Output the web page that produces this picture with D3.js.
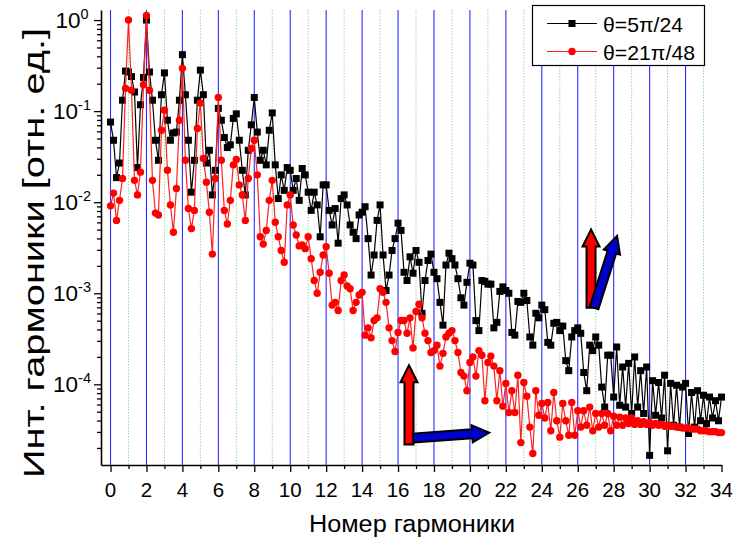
<!DOCTYPE html>
<html>
<head>
<meta charset="utf-8">
<script src="https://cdn.jsdelivr.net/npm/d3@7"></script>
<style>
  body { margin: 0; background: #fff; }
  text { font-family: "Liberation Sans", Arial, sans-serif; fill: #000; }
</style>
</head>
<body>
<svg id="chart" width="737" height="541"></svg>
<script>
// Harmonic sampling grid (harmonic number of the first sample and spacing)
const harmonicStart = 0;
const harmonicStep = 1 / 6;

// log10 of harmonic intensity (normalised units), θ = 5π/24
const logIntA = [
  -1.12,-1.32,-1.73,-1.57,-0.88,-0.56,
  -0.57,-0.62,-0.79,-1.62,-0.93,-0.63,
   0.00,-0.57,-0.88,-1.32,-1.54,-0.82,
  -0.58,-1.10,-1.32,-1.24,-1.23,-0.88,
  -0.38,-0.82,-1.32,-1.89,-1.54,-0.88,
  -0.55,-0.82,-1.57,-1.43,-1.92,-1.65,
  -0.97,-1.10,-1.29,-1.40,-1.37,-1.08,
  -1.03,-1.32,-1.65,-1.92,-1.43,-1.15,
  -0.85,-1.23,-1.54,-1.43,-1.59,-1.21,
  -1.02,-1.59,-1.96,-1.70,-1.87,-1.62,
  -1.65,-1.87,-1.74,-1.98,-1.63,-1.70,
  -1.89,-2.09,-1.89,-2.03,-2.38,-1.81,
  -1.81,-2.09,-2.25,-2.07,-2.45,-1.96,
  -1.92,-2.03,-2.25,-2.33,-2.40,-2.14,
  -2.11,-2.05,-2.40,-2.80,-2.58,-2.20,
  -2.03,-2.58,-2.97,-2.80,-2.53,-2.40,
  -2.23,-2.31,-2.77,-2.86,-2.60,-2.78,
  -2.53,-2.66,-3.22,-2.86,-2.64,-2.57,
  -2.77,-2.84,-3.10,-3.35,-2.69,-2.56,
  -2.62,-2.69,-2.84,-3.05,-3.13,-2.88,
  -2.67,-2.69,-3.30,-3.41,-2.86,-2.87,
  -2.90,-2.90,-3.38,-3.32,-2.98,-2.93,
  -2.97,-3.00,-3.43,-3.46,-3.09,-3.10,
  -3.00,-3.08,-3.48,-3.57,-3.22,-3.27,
  -3.13,-3.18,-3.54,-3.57,-3.33,-3.32,
  -3.41,-3.36,-3.74,-3.85,-3.48,-3.41,
  -3.38,-3.44,-3.87,-4.07,-3.57,-3.63,
  -3.48,-3.57,-4.03,-4.25,-3.68,-3.68,
  -4.14,-3.59,-4.23,-3.81,-4.25,-3.77,
  -4.32,-3.70,-4.25,-3.85,-4.32,-3.81,
  -4.78,-3.96,-4.34,-3.98,-4.37,-3.90,
  -4.73,-3.99,-4.45,-4.01,-4.47,-4.03,
  -3.99,-4.54,-4.09,-4.47,-4.07,-4.40,
  -4.12,-4.43,-4.14,-4.37,-4.18,-4.40,
  -4.14
];

// log10 of harmonic intensity (normalised units), θ = 21π/48
const logIntB = [
  -2.04,-1.90,-2.20,-1.98,-1.74,-0.75,
   0.00,-0.77,-1.76,-1.92,-1.67,-0.71,
   0.05,-0.77,-1.76,-2.12,-2.14,-1.21,
  -0.99,-1.65,-2.03,-2.33,-1.85,-1.10,
  -0.53,-1.54,-2.07,-2.29,-2.09,-1.19,
  -0.91,-1.52,-1.78,-2.11,-2.57,-1.74,
  -0.85,-1.54,-2.09,-2.24,-1.98,-1.59,
  -1.53,-1.81,-1.92,-2.20,-1.74,-1.41,
  -1.32,-1.70,-2.38,-2.46,-2.31,-1.98,
  -1.76,-2.22,-2.38,-2.53,-2.66,-2.03,
  -1.92,-2.25,-2.36,-2.48,-2.47,-2.51,
  -2.38,-2.62,-2.86,-3.00,-2.77,-2.58,
  -2.49,-2.78,-3.13,-3.10,-3.19,-2.86,
  -2.80,-2.92,-2.95,-3.19,-3.10,-3.02,
  -2.99,-3.46,-3.38,-3.49,-3.30,-3.27,
  -2.95,-2.99,-3.10,-3.38,-3.52,-3.64,
  -3.43,-3.30,-3.30,-3.44,-3.27,-3.60,
  -3.20,-3.12,-3.27,-3.44,-3.52,-3.65,
  -3.63,-3.57,-3.80,-3.66,-3.48,-3.44,
  -3.41,-3.52,-3.65,-3.87,-3.91,-4.07,
  -3.76,-3.70,-3.91,-3.63,-3.68,-4.18,
  -3.76,-3.69,-3.80,-4.18,-3.85,-4.24,
  -3.99,-4.31,-4.07,-4.31,-3.90,-4.64,
  -3.98,-4.13,-4.47,-4.76,-4.07,-4.34,
  -4.21,-4.37,-4.20,-4.51,-4.09,-4.40,
  -4.58,-4.21,-4.40,-4.56,-4.20,-4.56,
  -4.29,-4.47,-4.29,-4.45,-4.25,-4.51,
  -4.32,-4.47,-4.32,-4.45,-4.32,-4.51,
  -4.35,-4.45,-4.36,-4.45,-4.37,-4.43,
  -4.37,-4.44,-4.40,-4.44,-4.41,-4.44,
  -4.42,-4.45,-4.43,-4.45,-4.44,-4.46,
  -4.45,-4.46,-4.46,-4.47,-4.47,-4.48,
  -4.48,-4.48,-4.49,-4.49,-4.49,-4.51,
  -4.51,-4.51,-4.52,-4.52,-4.52,-4.53,
  -4.53
];

const seriesNames = ["θ=5π/24", "θ=21π/48"];
const xTickValues = [0, 2, 4, 6, 8, 10, 12, 14, 16, 18, 20, 22, 24, 26, 28, 30, 32, 34];
const xMinorValues = [1, 3, 5, 7, 9, 11, 13, 15, 17, 19, 21, 23, 25, 27, 29, 31, 33];
const yTickExponents = [0, -1, -2, -3, -4];
const xTitle = "Номер гармоники";
const yTitle = "Инт. гармоники [отн. ед.]";

// Block-arrow annotations, in data units (harmonic, log10 intensity)
const arrowNotes = [
  { color: "#ff0000", from: [16.61, -4.66], to: [16.61, -3.79] },
  { color: "#0000cc", from: [16.84, -4.59], to: [21.07, -4.53] },
  { color: "#ff0000", from: [26.74, -3.16], to: [26.74, -2.30] },
  { color: "#0000cc", from: [26.91, -3.16], to: [28.19, -2.37] }
];

const svg = d3.select("#chart");
const plot = { left: 101, right: 721.5, top: 10, bottom: 465 };

const x = d3.scaleLinear().domain([-0.53, 34]).range([plot.left, plot.right]);
const y = d3.scaleLog().domain([1.3e-5, 1.29]).range([plot.bottom, plot.top]);

const toPoints = logs => logs.map((e, i) => ({ h: harmonicStart + i * harmonicStep, v: Math.pow(10, e) }));
const seriesA = toPoints(logIntA);
const seriesB = toPoints(logIntB);

// vertical grid: solid blue on even harmonics, dotted green on odd ones
const grid = svg.append("g");
grid.selectAll("line.minor").data(xMinorValues).join("line")
  .attr("class", "minor")
  .attr("x1", d => x(d)).attr("x2", d => x(d))
  .attr("y1", plot.top).attr("y2", plot.bottom)
  .attr("stroke", "#8fe08f").attr("stroke-width", 1)
  .attr("stroke-dasharray", "1.5,1.5");
grid.selectAll("line.major").data(xTickValues.filter(d => d < 34)).join("line")
  .attr("class", "major")
  .attr("x1", d => x(d)).attr("x2", d => x(d))
  .attr("y1", plot.top).attr("y2", plot.bottom)
  .attr("stroke", "#2b2bff").attr("stroke-width", 1.1);

// axes
svg.append("g").attr("transform", `translate(0,${plot.bottom})`)
  .call(d3.axisBottom(x).tickValues(xTickValues).tickSize(7).tickSizeOuter(0).tickFormat(""));
svg.append("g").attr("transform", `translate(0,${plot.bottom})`)
  .call(d3.axisBottom(x).tickValues(xMinorValues).tickSize(4).tickSizeOuter(0).tickFormat(""))
  .select(".domain").remove();

const yMajor = yTickExponents.map(e => Math.pow(10, e));
const yMinor = [];
for (let k = -5; k <= 0; k++) {
  for (let m = 2; m <= 9; m++) {
    const v = m * Math.pow(10, k);
    if (v >= y.domain()[0] && v <= y.domain()[1]) yMinor.push(v);
  }
}
svg.append("g").attr("transform", `translate(${plot.left},0)`)
  .call(d3.axisLeft(y).tickValues(yMajor).tickSize(7).tickSizeOuter(0).tickFormat(""));
svg.append("g").attr("transform", `translate(${plot.left},0)`)
  .call(d3.axisLeft(y).tickValues(yMinor).tickSize(4).tickSizeOuter(0).tickFormat(""))
  .select(".domain").remove();

svg.selectAll(".domain").attr("stroke", "#000").attr("stroke-width", 1.6);
svg.selectAll(".tick line").attr("stroke", "#000").attr("stroke-width", 1.3);

// tick labels
svg.append("g").selectAll("text").data(xTickValues).join("text")
  .attr("x", d => x(d)).attr("y", plot.bottom + 32)
  .attr("text-anchor", "middle").attr("font-size", 20.5)
  .text(d => d);

const yLab = svg.append("g").selectAll("text").data(yTickExponents).join("text")
  .attr("x", 72).attr("y", d => y(Math.pow(10, d)) + 7.5)
  .attr("text-anchor", "middle").attr("font-size", 22.5);
yLab.append("tspan").text("10");
yLab.append("tspan").attr("dy", -9).attr("font-size", 14.5).text(d => String(d));

// axis titles
svg.append("text")
  .attr("x", 412).attr("y", 532)
  .attr("text-anchor", "middle").attr("font-size", 23)
  .attr("textLength", 206).attr("lengthAdjust", "spacingAndGlyphs")
  .text(xTitle);
svg.append("text")
  .attr("transform", "translate(44,253) rotate(-90)")
  .attr("text-anchor", "middle").attr("font-size", 29)
  .attr("textLength", 450).attr("lengthAdjust", "spacingAndGlyphs")
  .text(yTitle);

// series
const line = d3.line().x(d => x(d.h)).y(d => y(d.v));

const gA = svg.append("g");
gA.append("path").datum(seriesA).attr("d", line)
  .attr("fill", "none").attr("stroke", "#000").attr("stroke-width", 1.2);
gA.selectAll("rect").data(seriesA).join("rect")
  .attr("x", d => x(d.h) - 3.5).attr("y", d => y(d.v) - 3.5)
  .attr("width", 7).attr("height", 7).attr("fill", "#000");

const gB = svg.append("g");
gB.append("path").datum(seriesB).attr("d", line)
  .attr("fill", "none").attr("stroke", "#ff2020").attr("stroke-width", 1.2);
gB.selectAll("circle").data(seriesB).join("circle")
  .attr("cx", d => x(d.h)).attr("cy", d => y(d.v)).attr("r", 3.7)
  .attr("fill", "#ff0000");

// block arrows
function arrowPath(p0, p1, shaft, head, headLen) {
  const dx = p1[0] - p0[0], dy = p1[1] - p0[1];
  const len = Math.hypot(dx, dy);
  const ux = dx / len, uy = dy / len, nx = -uy, ny = ux;
  const bx = p1[0] - ux * headLen, by = p1[1] - uy * headLen;
  const pts = [
    [p0[0] + nx * shaft, p0[1] + ny * shaft],
    [bx + nx * shaft, by + ny * shaft],
    [bx + nx * head, by + ny * head],
    [p1[0], p1[1]],
    [bx - nx * head, by - ny * head],
    [bx - nx * shaft, by - ny * shaft],
    [p0[0] - nx * shaft, p0[1] - ny * shaft]
  ];
  return "M" + pts.map(p => p.join(",")).join("L") + "Z";
}
svg.append("g").selectAll("path").data(arrowNotes).join("path")
  .attr("d", d => arrowPath(
    [x(d.from[0]), y(Math.pow(10, d.from[1]))],
    [x(d.to[0]), y(Math.pow(10, d.to[1]))], 4.5, 8.5, 17))
  .attr("fill", d => d.color)
  .attr("stroke", "#000").attr("stroke-width", 2).attr("stroke-linejoin", "miter");

// legend
const legend = svg.append("g");
legend.append("rect").attr("x", 532.5).attr("y", 5.5).attr("width", 172).attr("height", 60)
  .attr("fill", "#fff").attr("stroke", "#000").attr("stroke-width", 1.2);
const legendRows = [
  { name: seriesNames[0], yy: 23.5, color: "#000", width: 80 },
  { name: seriesNames[1], yy: 51.5, color: "#ff2020", width: 92 }
];
legendRows.forEach((r, i) => {
  legend.append("line").attr("x1", 547).attr("x2", 597).attr("y1", r.yy).attr("y2", r.yy)
    .attr("stroke", r.color).attr("stroke-width", 1.2);
  if (i === 0) {
    legend.append("rect").attr("x", 568.5).attr("y", r.yy - 3.5).attr("width", 7).attr("height", 7).attr("fill", "#000");
  } else {
    legend.append("circle").attr("cx", 572).attr("cy", r.yy).attr("r", 3.7).attr("fill", "#ff0000");
  }
  legend.append("text").attr("x", 603).attr("y", r.yy + 8)
    .attr("font-size", 21).attr("textLength", r.width).attr("lengthAdjust", "spacingAndGlyphs")
    .text(r.name);
});
</script>
</body>
</html>
